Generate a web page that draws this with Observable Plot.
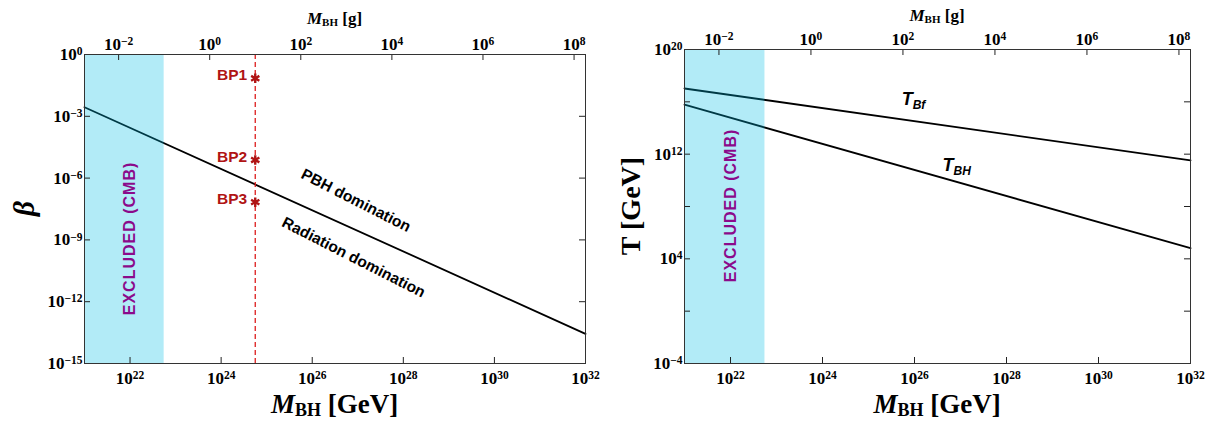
<!DOCTYPE html>
<html><head><meta charset="utf-8">
<script src="https://cdn.jsdelivr.net/npm/d3@7"></script>
<script src="https://cdn.jsdelivr.net/npm/@observablehq/plot@0.6"></script>
<style>
body{margin:0;background:#fff;}
#wrap{display:flex;width:1212px;height:423px;overflow:hidden;}
</style></head><body><div id="wrap"></div>
<script>
// ---------- data ----------
const GEV_PER_GRAM = 5.61e23;
const massDomain = [1e21, 1e32];
const gevTicks = [1e22, 1e24, 1e26, 1e28, 1e30, 1e32];
const gramTicks = [1e-2, 1e0, 1e2, 1e4, 1e6, 1e8];
const excludedMaxGram = 0.1;
const bpMassGram = 10;

const betaDomain = [1e-15, 1e0];
const betaTicks = [1e0, 1e-3, 1e-6, 1e-9, 1e-12, 1e-15];
const betaLineMass = [1e21, 1e32];
const betaLineValue = [10 ** -2.56, 10 ** -13.56];
const bpNames = ["BP1", "BP2", "BP3"];
const bpBeta = [0.07, 7.6e-6, 6.8e-8];
const regimeNames = ["PBH domination", "Radiation domination"];
const regimeMass = [10 ** 26.96, 10 ** 26.91];
const regimeBeta = [10 ** -7.09, 10 ** -9.85];
const excludedLabelBeta = 10 ** -8.93;

const tempDomain = [1e-4, 1e20];
const tempTicksAll = [1e20, 1e16, 1e12, 1e8, 1e4, 1e0, 1e-4];
const tempTicksLabeled = [1e20, 1e12, 1e4, 1e-4];
const tempLineMass = [1e21, 1e32];
const tBfValue = [10 ** 17.02, 10 ** 11.53];
const tBHValue = [10 ** 15.78, 10 ** 4.81];
const tLabelSub = ["Bf", "BH"];
const tLabelMass = [10 ** 25.99, 10 ** 26.93];
const tLabelTemp = [10 ** 15.75, 10 ** 10.71];
const excludedLabelTemp = 10 ** 8.08;
const excludedLabelMass = 1e22;

// ---------- style ----------
const SERIF = "'Liberation Serif','Times New Roman',serif";
const SANS = "'Liberation Sans',Arial,sans-serif";
const BAND = "rgb(0,190,230)";
const RED = "#b01414";
const DASH_RED = "#dd1c1c";
const PURPLE = "#8b0a8b";
const W = 606, H = 423;

const expFmt = v => "10^" + Math.round(Math.log10(v));
const gramFmt = v => "10^" + Math.round(Math.log10(v / GEV_PER_GRAM));

function frameTicks(xTicksBottom, xTicksTop, yTicks, innerW, innerH) {
  const s = {stroke: "#222", strokeWidth: 1};
  return [
    Plot.tickX(xTicksBottom, {x: d => d, insetTop: innerH - 6, ...s}),
    Plot.tickX(xTicksTop, {x: d => d, insetBottom: innerH - 6, ...s}),
    Plot.tickY(yTicks, {y: d => d, insetRight: innerW - 6, ...s}),
    Plot.tickY(yTicks, {y: d => d, insetLeft: innerW - 6, ...s})
  ];
}

function supify(svg) {
  d3.select(svg).selectAll('g[aria-label$="tick label"]')
    .attr("font-size", "17px").attr("font-weight", "bold").attr("font-family", SERIF);
  d3.select(svg).selectAll('g[aria-label$="tick label"] text').each(function () {
    const m = this.textContent.match(/^10\^(.+)$/);
    if (!m) return;
    const sel = d3.select(this).attr("font-size", "17px").attr("font-weight", "bold");
    sel.text(null);
    sel.append("tspan").text("10");
    sel.append("tspan").attr("dy", "-0.42em").attr("font-size", "11.5px").text(m[1].replace("-", "\u2212"));
  });
}

function massTitles(svg, cx) {
  const g = d3.select(svg).append("g").attr("font-family", SERIF).attr("font-weight", "bold").attr("fill", "#000");
  const b = g.append("text").attr("x", cx).attr("y", 413).attr("text-anchor", "middle").attr("font-size", "27px");
  b.append("tspan").attr("font-style", "italic").text("M");
  b.append("tspan").attr("font-size", "18px").attr("dy", 3).text("BH");
  b.append("tspan").attr("dy", -3).text(" [GeV]");
}
function gramTitle(svg, cx, y) {
  const g = d3.select(svg).append("g").attr("font-family", SERIF).attr("font-weight", "bold").attr("fill", "#000");
  const t = g.append("text").attr("x", cx).attr("y", y).attr("text-anchor", "middle").attr("font-size", "17px");
  t.append("tspan").attr("font-style", "italic").text("M");
  t.append("tspan").attr("font-size", "11px").attr("dy", 2).text("BH");
  t.append("tspan").attr("dy", -2).text(" [g]");
}
function axes(yTicks) {
  return [
    Plot.axisX({anchor: "bottom", ticks: gevTicks, tickSize: 0, tickPadding: 8, tickFormat: expFmt, label: null}),
    Plot.axisX({anchor: "top", ticks: gramTicks.map(g => g * GEV_PER_GRAM), tickSize: 0, tickPadding: 5, tickFormat: gramFmt, label: null}),
    Plot.axisY({anchor: "left", ticks: yTicks, tickSize: 0, tickPadding: 2, tickFormat: expFmt, label: null})
  ];
}

// ---------- left panel ----------
const L = {ml: 84, mr: 21, mt: 54, mb: 60};
const LiW = W - L.ml - L.mr, LiH = H - L.mt - L.mb;
const betaLine = betaLineMass.map((m, i) => ({m, v: betaLineValue[i]}));
const bps = bpNames.map((n, i) => ({n, m: bpMassGram * GEV_PER_GRAM, v: bpBeta[i]}));
const regimes = regimeNames.map((n, i) => ({n, m: regimeMass[i], v: regimeBeta[i]}));

const left = Plot.plot({
  width: W, height: H,
  marginLeft: L.ml, marginRight: L.mr, marginTop: L.mt, marginBottom: L.mb,
  style: {fontFamily: SERIF, fontWeight: "bold", fontSize: "16px", color: "#000", background: "#fff"},
  x: {type: "log", domain: massDomain},
  y: {type: "log", domain: betaDomain},
  marks: [
    Plot.line(betaLine, {x: "m", y: "v", stroke: "#000", strokeWidth: 1.8}),
    Plot.ruleX([bpMassGram * GEV_PER_GRAM], {stroke: DASH_RED, strokeWidth: 1.3, strokeDasharray: "5,3"}),
    Plot.rect([{a: massDomain[0], b: excludedMaxGram * GEV_PER_GRAM}], {x1: "a", x2: "b", fill: BAND, fillOpacity: 0.3}),
    Plot.dot(bps, {x: "m", y: "v", symbol: "asterisk", r: 4.5, stroke: RED, strokeWidth: 2.4}),
    Plot.text(bps, {x: "m", y: "v", text: "n", textAnchor: "end", dx: -8, dy: -3, fill: RED, fontFamily: SANS, fontWeight: "bold", fontSize: 15.5}),
    Plot.text(regimes, {x: "m", y: "v", text: "n", rotate: 27, fill: "#000", fontFamily: SANS, fontWeight: "bold", fontSize: 15.5}),
    Plot.text([{m: excludedLabelMass, v: excludedLabelBeta}], {x: "m", y: "v", text: () => "EXCLUDED (CMB)", rotate: -90, fill: PURPLE, fontFamily: SANS, fontWeight: "bold", fontSize: 16}),
    ...frameTicks(gevTicks, gramTicks.map(g => g * GEV_PER_GRAM), betaTicks, LiW, LiH),
    Plot.frame({stroke: "#333", strokeWidth: 1}),
    ...axes(betaTicks)
  ]
});
supify(left);
massTitles(left, L.ml + LiW / 2);
gramTitle(left, L.ml + LiW / 2, 24);
d3.select(left).append("text")
  .attr("transform", `translate(24,${L.mt + LiH / 2}) rotate(-90)`)
  .attr("text-anchor", "middle").attr("dominant-baseline", "central")
  .attr("font-family", SERIF).attr("font-weight", "bold").attr("font-style", "italic")
  .attr("font-size", "29px").attr("fill", "#000").text("\u03b2");

// ---------- right panel ----------
const R = {ml: 78, mr: 22, mt: 49, mb: 60};
const RiW = W - R.ml - R.mr, RiH = H - R.mt - R.mb;
const tLines = [
  ...tempLineMass.map((m, i) => ({s: "Bf", m, v: tBfValue[i]})),
  ...tempLineMass.map((m, i) => ({s: "BH", m, v: tBHValue[i]}))
];

const right = Plot.plot({
  width: W, height: H,
  marginLeft: R.ml, marginRight: R.mr, marginTop: R.mt, marginBottom: R.mb,
  style: {fontFamily: SERIF, fontWeight: "bold", fontSize: "16px", color: "#000", background: "#fff"},
  x: {type: "log", domain: massDomain},
  y: {type: "log", domain: tempDomain},
  marks: [
    Plot.line(tLines, {x: "m", y: "v", z: "s", stroke: "#000", strokeWidth: 1.8}),
    Plot.rect([{a: massDomain[0], b: excludedMaxGram * GEV_PER_GRAM}], {x1: "a", x2: "b", fill: BAND, fillOpacity: 0.3}),
    Plot.text([{m: excludedLabelMass, v: excludedLabelTemp}], {x: "m", y: "v", text: () => "EXCLUDED (CMB)", rotate: -90, fill: PURPLE, fontFamily: SANS, fontWeight: "bold", fontSize: 16}),
    ...frameTicks(gevTicks, gramTicks.map(g => g * GEV_PER_GRAM), tempTicksAll, RiW, RiH),
    Plot.frame({stroke: "#333", strokeWidth: 1}),
    ...axes(tempTicksLabeled)
  ]
});
supify(right);
massTitles(right, R.ml + RiW / 2);
gramTitle(right, R.ml + RiW / 2, 21);
d3.select(right).append("text")
  .attr("transform", `translate(24,${R.mt + RiH / 2}) rotate(-90)`)
  .attr("text-anchor", "middle").attr("dominant-baseline", "central")
  .attr("font-family", SERIF).attr("font-weight", "bold")
  .attr("font-size", "28px").attr("fill", "#000").text("T [GeV]");
{
  const xs = right.scale("x"), ys = right.scale("y");
  const g = d3.select(right).append("g").attr("font-family", SANS).attr("font-weight", "bold").attr("font-style", "italic").attr("fill", "#000");
  tLabelSub.forEach((s, i) => {
    const t = g.append("text").attr("x", xs.apply(tLabelMass[i])).attr("y", ys.apply(tLabelTemp[i])).attr("font-size", "18px");
    t.append("tspan").text("T");
    t.append("tspan").attr("font-size", "12px").attr("dy", 4).text(s);
  });
}

for (const svg of [left, right]) {
  d3.select(svg).selectAll("text").filter(function () { return this.textContent.startsWith("EXCLUDED"); }).attr("letter-spacing", "1px");
}

document.getElementById("wrap").append(left, right);
</script>
</body></html>
